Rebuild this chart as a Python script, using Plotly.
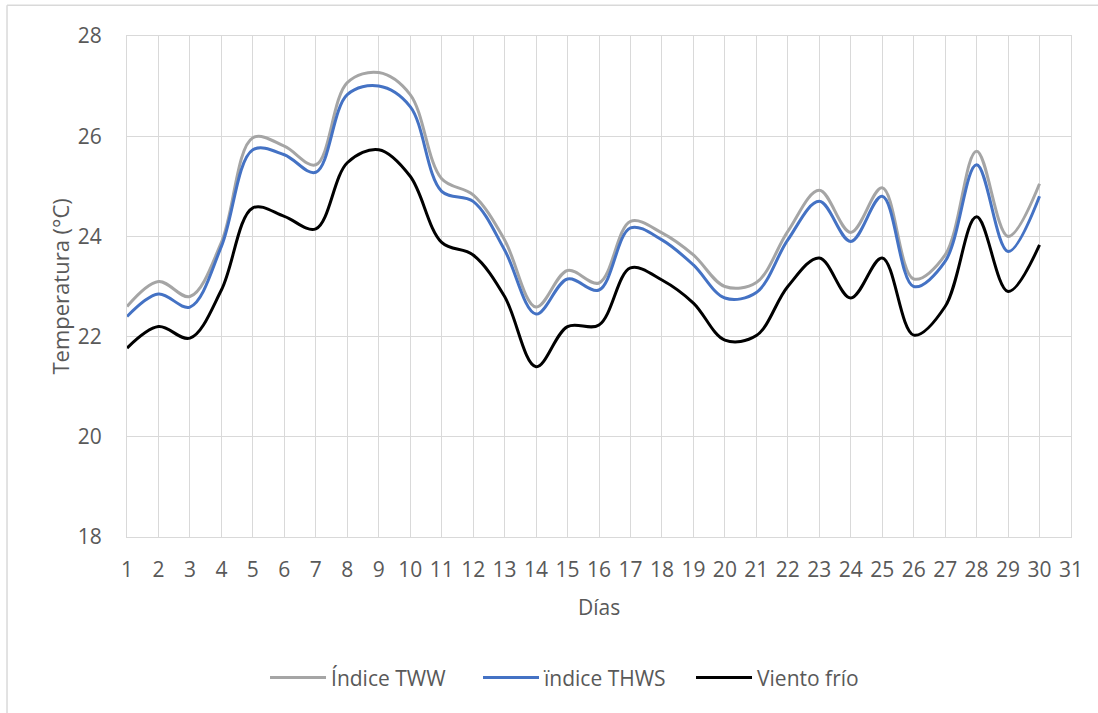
import plotly.graph_objects as go

days = list(range(1, 31))
x_ticks = list(range(1, 32))
y_ticks = [18, 20, 22, 24, 26, 28]

series_names = ["Índice TWW", "ïndice THWS", "Viento frío"]
tww = [22.6, 23.1, 22.8, 23.88, 25.97, 25.8, 25.43, 27.07, 27.27, 26.83,
       25.15, 24.83, 23.93, 22.59, 23.32, 23.07, 24.3, 24.07, 23.63, 23.0,
       23.08, 24.1, 24.92, 24.08, 24.97, 23.15, 23.63, 25.7, 24.0, 25.05]
thws = [22.4, 22.85, 22.59, 23.8, 25.73, 25.63, 25.28, 26.83, 27.0, 26.59,
        24.9, 24.7, 23.73, 22.45, 23.15, 22.93, 24.17, 23.93, 23.43, 22.77,
        22.88, 23.93, 24.7, 23.9, 24.8, 23.0, 23.5, 25.43, 23.7, 24.8]
viento = [21.77, 22.2, 21.97, 22.93, 24.57, 24.4, 24.15, 25.47, 25.73, 25.2,
          23.88, 23.63, 22.8, 21.4, 22.2, 22.23, 23.37, 23.13, 22.67, 21.93,
          22.02, 23.0, 23.57, 22.77, 23.57, 22.03, 22.6, 24.39, 22.9, 23.83]
colors = ["#A5A5A5", "#4472C4", "#000000"]

FONT = "Open Sans"
TXT = "#595959"
GRID = "#D9D9D9"

fig = go.Figure()
for name, vals, col in zip(series_names, [tww, thws, viento], colors):
    fig.add_trace(go.Scatter(
        x=days, y=vals, name=name, mode="lines",
        line=dict(color=col, width=3, shape="spline", smoothing=1.0),
    ))

fig.update_layout(
    width=1098, height=713,
    margin=dict(l=127, r=27, t=36, b=176),
    paper_bgcolor="white", plot_bgcolor="white",
    font=dict(family=FONT, size=21, color=TXT),
    showlegend=True,
    legend=dict(orientation="h", x=0.1462, xanchor="left", y=-0.281, yanchor="middle",
                font=dict(family=FONT, size=21, color=TXT), itemwidth=56,
                entrywidth=142, entrywidthmode="pixels",
                bgcolor="rgba(0,0,0,0)"),
    xaxis=dict(range=[1, 31], tickmode="array", tickvals=x_ticks,
               ticktext=[str(v) for v in x_ticks],
               showgrid=True, gridcolor=GRID, gridwidth=1.3,
               showline=True, linecolor=GRID, linewidth=1.3, mirror=True,
               zeroline=False, ticks="", ticklabelstandoff=14,
               tickfont=dict(family=FONT, size=21, color=TXT)),
    yaxis=dict(range=[18, 28], tickmode="array", tickvals=y_ticks,
               showgrid=True, gridcolor=GRID, gridwidth=1.3,
               showline=True, linecolor=GRID, linewidth=1.3, mirror=True,
               zeroline=False, ticks="", ticklabelstandoff=20,
               tickfont=dict(family=FONT, size=21, color=TXT)),
    annotations=[
        dict(text="Días", xref="paper", yref="paper", x=0.5, y=-0.1406,
             xanchor="center", yanchor="middle", showarrow=False,
             font=dict(family=FONT, size=21, color=TXT)),
        dict(text="Temperatura (°C)", xref="paper", yref="paper", x=-0.072, y=0.5,
             xanchor="center", yanchor="middle", textangle=-90, showarrow=False,
             font=dict(family=FONT, size=22, color=TXT)),
    ],
    shapes=[
        dict(type="line", xref="paper", yref="paper", x0=-0.1271, x1=1.03, y0=1.0614, y1=1.0614,
             line=dict(color=GRID, width=1.5)),
        dict(type="line", xref="paper", yref="paper", x0=-0.1271, x1=-0.1271, y0=1.0614, y1=-0.36,
             line=dict(color=GRID, width=1.5)),
    ],
)

fig.write_html("out.html", config={"displayModeBar": False},
               post_script="document.body.style.margin='0';")
